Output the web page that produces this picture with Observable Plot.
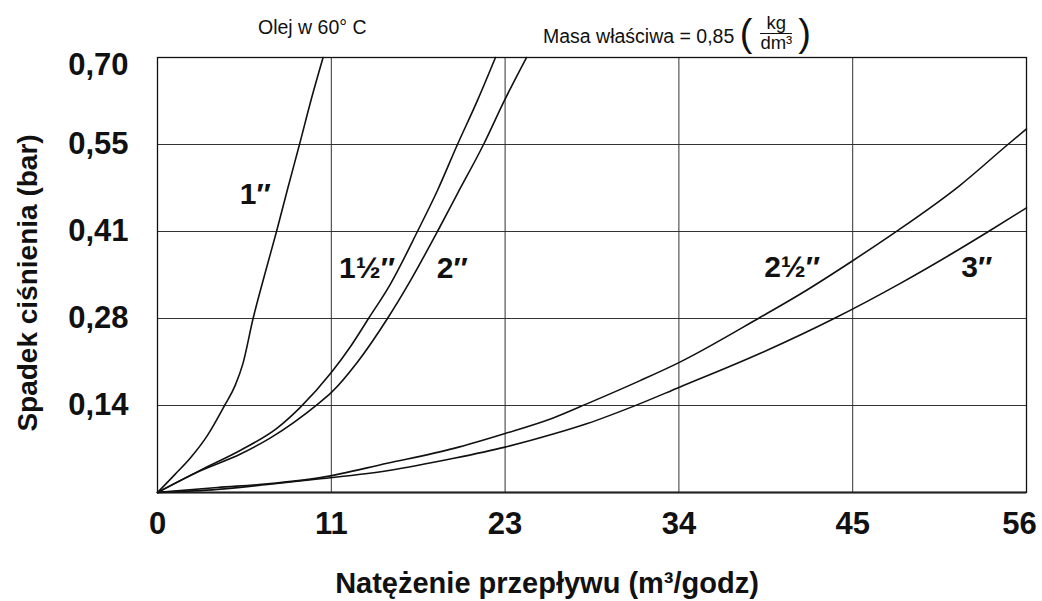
<!DOCTYPE html>
<html><head><meta charset="utf-8">
<script src="https://cdn.jsdelivr.net/npm/d3@7"></script>
<script src="https://cdn.jsdelivr.net/npm/@observablehq/plot@0.6"></script>
<style>
html,body{margin:0;padding:0;background:#fff;}
#wrap{position:relative;width:1042px;height:601px;font-family:"Liberation Sans",Arial,sans-serif;color:#111;}
#wrap svg{position:absolute;left:0;top:0;}
.hdr{position:absolute;font-size:19.5px;white-space:nowrap;line-height:1;}
.paren{font-size:38px;font-weight:300;vertical-align:middle;position:relative;top:-4px;}
.frac{display:inline-block;vertical-align:middle;text-align:center;font-size:18.5px;line-height:1.02;margin:0 6px 0 8px;position:relative;top:-4px;}
.frac span{display:block;}
.frac .num{border-bottom:1px solid #111;padding:0 1px;}
</style></head>
<body><div id="wrap">
<div class="hdr" style="left:258px;top:18px">Olej w 60° C</div>
<div class="hdr" style="left:543px;top:18px">Masa właściwa = 0,85 <span class="paren">(</span><span class="frac"><span class="num">kg</span><span>dm³</span></span><span class="paren">)</span></div>
</div>
<script>
const xTicks = [0, 11.2, 22.4, 33.6, 44.8, 56];
const xTickLabels = ["0", "11", "23", "34", "45", "56"];
const yTicks = [0.14, 0.28, 0.42, 0.56, 0.70];
const yTickLabels = ["0,14", "0,28", "0,41", "0,55", "0,70"];

const pipe1 = [[0,0],[1.16,0.030],[2.13,0.056],[3.22,0.092],[4.32,0.140],[5.0,0.172],[5.5,0.207],[6.16,0.280],[6.9,0.350],[7.67,0.420],[8.4,0.490],[9.15,0.560],[9.9,0.632],[10.67,0.700]];
const pipe15 = [[0,0],[2.77,0.036],[5.35,0.068],[7.73,0.104],[9.2,0.137],[11.2,0.193],[12.44,0.235],[13.6,0.280],[15.0,0.335],[16.75,0.420],[18.04,0.486],[19.33,0.560],[20.62,0.631],[21.78,0.700]];
const pipe2 = [[0,0],[2.77,0.035],[5.35,0.062],[7.28,0.088],[10.31,0.142],[11.21,0.161],[12.89,0.210],[14.82,0.280],[16.3,0.341],[18.04,0.420],[19.33,0.481],[21.01,0.560],[22.36,0.631],[23.78,0.700]];
const pipe25 = [[0,0],[3.86,0.008],[7.1,0.014],[10.5,0.024],[14.8,0.047],[19.1,0.071],[22.4,0.095],[25.5,0.120],[27.7,0.143],[31.1,0.180],[33.6,0.209],[38.85,0.282],[41.4,0.319],[44.8,0.373],[47.55,0.419],[51.7,0.494],[54.8,0.560],[56,0.585]];
const pipe3 = [[0,0],[3.86,0.005],[7.1,0.013],[10.5,0.022],[14.8,0.035],[19.1,0.055],[22.4,0.073],[25.5,0.094],[27.7,0.111],[30.7,0.139],[33.6,0.169],[38.85,0.224],[43.6,0.280],[47.9,0.337],[51.1,0.383],[53.55,0.420],[56,0.458]];

const seriesNames = ["1″", "1½″", "2″", "2½″", "3″"];
const seriesPoints = [pipe1, pipe15, pipe2, pipe25, pipe3];
const labelX = [6.3, 13.5, 19.0, 40.9, 52.8];
const labelY = [0.480, 0.361, 0.361, 0.363, 0.363];

const rows = seriesNames.flatMap((name, i) => seriesPoints[i].map(([x, y]) => ({series: name, x, y})));
const labels = seriesNames.map((name, i) => ({label: name, x: labelX[i], y: labelY[i]}));

const font = '"Liberation Sans", Arial, sans-serif';
const yTop = yTicks.slice(-1), yRest = yTicks.slice(0, -1);
const xLast = xTicks.slice(-1), xRest = xTicks.slice(0, -1);
const yFmt = d => yTickLabels[yTicks.indexOf(d)];
const xFmt = d => xTickLabels[xTicks.indexOf(d)];
const xAxisOpts = {tickFormat: xFmt, tickSize: 0, tickPadding: 19, fontSize: 31, fontWeight: "bold", label: null};
const yAxisOpts = {tickFormat: yFmt, tickSize: 0, tickPadding: 29, fontSize: 31, fontWeight: "bold", label: null};

const chart = Plot.plot({
  width: 1042, height: 601,
  marginTop: 57, marginBottom: 109, marginLeft: 157, marginRight: 16,
  x: {domain: [0, 56]},
  y: {domain: [0, 0.70]},
  style: {fontFamily: font, background: "transparent", color: "#111", fontWeight: "bold"},
  marks: [
    Plot.gridX(xTicks, {stroke: "#333", strokeOpacity: 1, strokeWidth: 1}),
    Plot.gridY(yTicks, {stroke: "#333", strokeOpacity: 1, strokeWidth: 1}),
    Plot.frame({stroke: "#111", strokeWidth: 1.3}),
    Plot.ruleY([0], {stroke: "#222", strokeWidth: 2.2}),
    Plot.axisX(xRest, xAxisOpts),
    Plot.axisX(xLast, {...xAxisOpts, dx: -7}),
    Plot.axisY(yRest, yAxisOpts),
    Plot.axisY(yTop, {...yAxisOpts, dy: 8}),
    Plot.line(rows, {x: "x", y: "y", z: "series", stroke: "#111", strokeWidth: 1.6, curve: "monotone-x"}),
    Plot.text(labels, {x: "x", y: "y", text: "label", fontSize: 30, fontWeight: "bold", fill: "#111"}),
    Plot.text(["Natężenie przepływu (m³/godz)"], {frameAnchor: "bottom", lineAnchor: "middle", textAnchor: "middle", dy: 91, dx: -45, fontSize: 29, fontWeight: "bold", fill: "#111"}),
    Plot.text(["Spadek ciśnienia (bar)"], {frameAnchor: "left", rotate: -90, textAnchor: "middle", lineAnchor: "middle", dx: -129, dy: 8, fontSize: 28, fontWeight: "bold", fill: "#111"})
  ]
});
document.getElementById("wrap").prepend(chart);
</script>
</body></html>
